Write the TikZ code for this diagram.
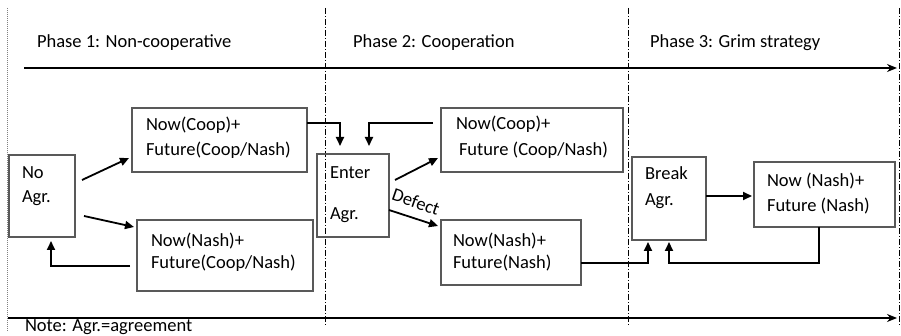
\documentclass[tikz,border=0pt]{standalone}
\usepackage{fontspec}
\setmainfont{Carlito}
\usetikzlibrary{arrows.meta,calc}

\begin{document}
\begin{tikzpicture}[x=1pt,y=-1pt,
  every node/.style={font=\fontsize{18.5pt}{22pt}\selectfont, inner sep=0pt, outer sep=0pt},
  txt/.style={anchor=west, text height=13pt, text depth=4pt},
  stagebox/.style={draw=black!65, line width=1.2pt},
  flow/.style={line width=1.8pt, -{Triangle[length=9pt,width=8pt]}},
  timeline/.style={line width=1.6pt, -{Stealth[length=10pt,width=8pt]}},
  phaseline/.style={line width=0.8pt, dash pattern=on 6pt off 2pt on 1pt off 2pt},
  frameline/.style={black!50, line width=1pt, dash pattern=on 1pt off 1pt}]

\useasboundingbox (0,0) rectangle (901,336);

% frame and phase separators
\coordinate (fl-top) at (7,8);
\coordinate (fl-bot) at (7,332);
\draw[frameline] (fl-top) -- (fl-bot);
\coordinate (p2-top) at (325,8);
\coordinate (p2-bot) at (325,326);
\draw[phaseline] (p2-top) -- (p2-bot);
\coordinate (p3-top) at (628,8);
\coordinate (p3-bot) at (628,326);
\draw[phaseline] (p3-top) -- (p3-bot);
\coordinate (pe-top) at (899,8);
\coordinate (pe-bot) at (899,326);
\draw[phaseline] (pe-top) -- (pe-bot);

% time axes
\coordinate (ta-start) at (24,68);
\coordinate (ta-end) at (897,68);
\draw[timeline] (ta-start) -- (ta-end);
\coordinate (ba-start) at (8,318);
\coordinate (ba-end) at (897,318);
\draw[timeline] (ba-start) -- (ba-end);

% phase titles
\node[txt] (ph1) at (37,43) {Phase 1: Non-cooperative};
\node[txt] (ph2) at (353,43) {Phase 2: Cooperation};
\node[txt] (ph3) at (650,43) {Phase 3: Grim strategy};

% stage boxes
\node[stagebox, minimum width=66pt, minimum height=82pt] (noagr) at (42,196) {};
\node[stagebox, minimum width=175pt, minimum height=64pt] (coopA) at (219.5,140) {};
\node[stagebox, minimum width=176pt, minimum height=71pt] (nashA) at (225,255.5) {};
\node[stagebox, minimum width=72pt, minimum height=83pt] (enter) at (353,195.5) {};
\node[stagebox, minimum width=182pt, minimum height=64pt] (coopB) at (532,140) {};
\node[stagebox, minimum width=140pt, minimum height=65pt] (nashB) at (511,252.5) {};
\node[stagebox, minimum width=74pt, minimum height=83pt] (brk) at (669,198.5) {};
\node[stagebox, minimum width=141pt, minimum height=65pt] (nashC) at (824.5,194.5) {};

% box texts
\node[txt] (noagr-a) at (22,174) {No};
\node[txt] (noagr-b) at (22,198) {Agr.};
\node[txt] (coopA-a) at (146,126) {Now(Coop)+};
\node[txt] (coopA-b) at (146,151) {Future(Coop/Nash)};
\node[txt] (nashA-a) at (151,242) {Now(Nash)+};
\node[txt] (nashA-b) at (151,264) {Future(Coop/Nash)};
\node[txt] (enter-a) at (330,174) {Enter};
\node[txt] (enter-b) at (330,215) {Agr.};
\node[txt] (coopB-a) at (456,125) {Now(Coop)+};
\node[txt] (coopB-b) at (459,151) {Future (Coop/Nash)};
\node[txt] (nashB-a) at (453,242) {Now(Nash)+};
\node[txt] (nashB-b) at (453,264) {Future(Nash)};
\node[txt] (brk-a) at (645,175) {Break};
\node[txt] (brk-b) at (645,201) {Agr.};
\node[txt] (nashC-a) at (767,182) {Now (Nash)+};
\node[txt] (nashC-b) at (767,207) {Future (Nash)};

% note
\node[txt] (note) at (25,327) {Note: Agr.=agreement};

% phase 1 transitions
\draw[flow] ($(noagr.east)+(7,-16)$) -- ($(coopA.west)+(-3,18)$);
\draw[flow] ($(noagr.east)+(9,20)$) -- ($(nashA.west)+(-3,-28.5)$);
\draw[flow] ($(nashA.west)+(-7,10.5)$) -| ($(noagr.south)+(9,4)$);

% into the agreement
\draw[flow] ($(coopA.east)+(0,-17)$) -| ($(enter.north)+(-13,-8)$);
\draw[flow] ($(coopB.west)+(-8,-17)$) -| ($(enter.north)+(16,-8)$);

% phase 2 transitions
\draw[flow] ($(enter.east)+(6,-15.5)$) -- ($(coopB.west)+(-3,18)$);
\draw[flow] ($(enter.east)+(0,14.5)$) -- ($(nashB.west)+(-3,-26.5)$);
\node[rotate=-19] (defect) at (416,202) {Defect};

% phase 3 transitions
\draw[flow] ($(nashB.east)+(0,10.5)$) -| ($(brk.south)+(-21,2)$);
\draw[flow] ($(nashC.south)+(-5.5,0)$) |- ($(brk.south)+(0,23)$) -- ($(brk.south)+(0,2)$);
\draw[flow] ($(brk.east)+(0,-2.5)$) -- ($(brk.east -| nashC.west)+(-2,-2.5)$);

\end{tikzpicture}
\end{document}
